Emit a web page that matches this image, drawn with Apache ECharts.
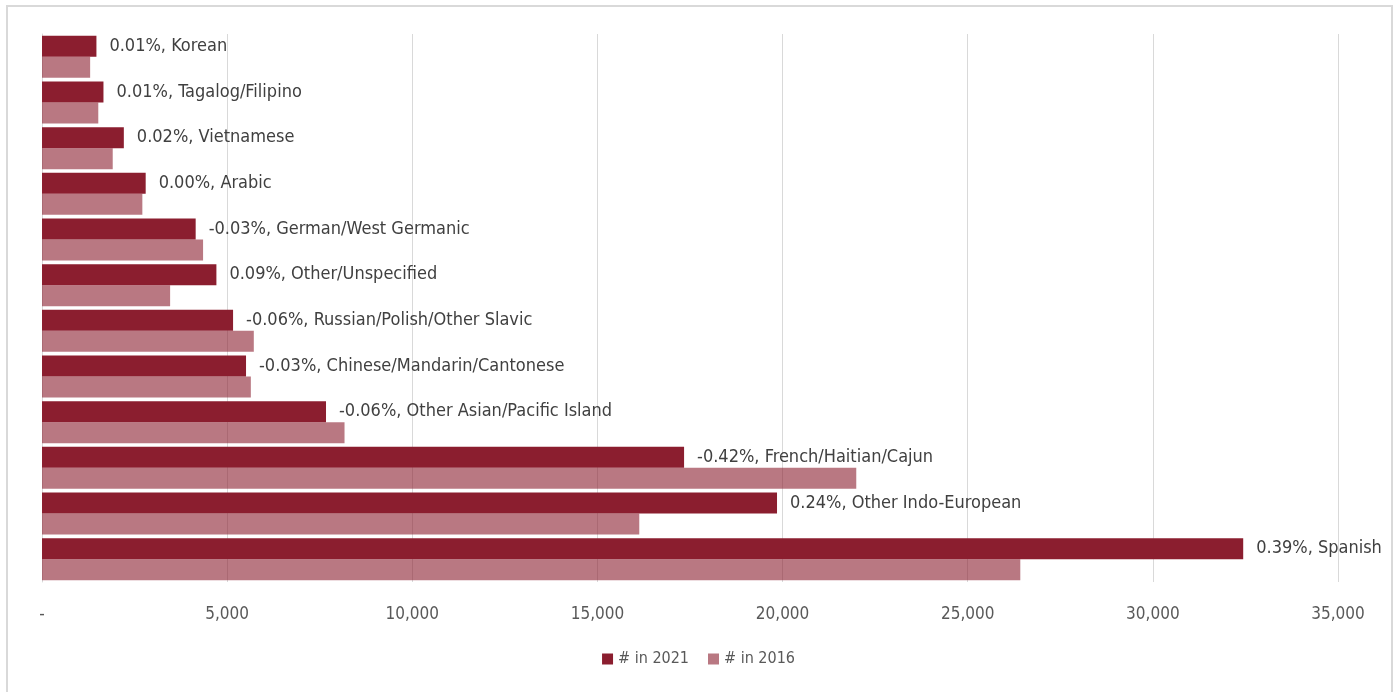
<!DOCTYPE html>
<html>
<head>
<meta charset="utf-8">
<script src="https://cdn.jsdelivr.net/npm/echarts@6/dist/echarts.min.js"></script>
<style>
  html, body { margin: 0; padding: 0; background: #fff; }
  #main { width: 1397px; height: 692px; }
</style>
</head>
<body>
<div id="main"></div>
<script>
// languages, listed top to bottom as in the chart
var languages = ['Korean', 'Tagalog/Filipino', 'Vietnamese', 'Arabic', 'German/West Germanic',
  'Other/Unspecified', 'Russian/Polish/Other Slavic', 'Chinese/Mandarin/Cantonese',
  'Other Asian/Pacific Island', 'French/Haitian/Cajun', 'Other Indo-European', 'Spanish'];
var count2021 = [1470, 1660, 2210, 2800, 4150, 4710, 5160, 5510, 7670, 17340, 19850, 32440];
var count2016 = [1300, 1520, 1910, 2710, 4350, 3460, 5720, 5640, 8170, 21990, 16130, 26420];
var pctChange = ['0.01%', '0.01%', '0.02%', '0.00%', '-0.03%', '0.09%', '-0.06%', '-0.03%',
  '-0.06%', '-0.42%', '0.24%', '0.39%'];
var xTicks = [0, 5000, 10000, 15000, 20000, 25000, 30000, 35000];

var font = "'DejaVu Sans Condensed', 'Liberation Sans Narrow', sans-serif";
var chart = echarts.init(document.getElementById('main'), null, {renderer: 'canvas'});

chart.setOption({
  animation: false,
  backgroundColor: '#fff',
  graphic: [{
    type: 'rect',
    shape: {x: 7, y: 6, width: 1385, height: 700},
    style: {fill: 'none', stroke: '#d9d9d9', lineWidth: 2},
    silent: true
  }],
  legend: {
    data: ['# in 2021', '# in 2016'],
    bottom: 20,
    left: 'center',
    icon: 'rect',
    itemWidth: 11,
    itemHeight: 11,
    itemGap: 19,
    textStyle: {color: '#595959', fontSize: 16, fontFamily: font}
  },
  grid: {left: 42, right: 59, top: 34, bottom: 110},
  xAxis: {
    type: 'value',
    min: xTicks[0],
    max: xTicks[xTicks.length - 1],
    interval: 5000,
    axisLine: {show: false},
    axisTick: {show: false},
    splitLine: {lineStyle: {color: '#d9d9d9', width: 1}},
    axisLabel: {
      color: '#595959', fontSize: 17, fontFamily: font, margin: 24,
      formatter: function (v) { return v === 0 ? '-' : v.toLocaleString('en-US'); }
    }
  },
  yAxis: {
    type: 'category',
    data: languages,
    inverse: true,
    axisLine: {show: true, lineStyle: {color: '#d9d9d9'}},
    axisTick: {show: false},
    axisLabel: {show: false}
  },
  series: [{
    name: '# in 2021',
    type: 'bar',
    data: count2021,
    barGap: '0%',
    barCategoryGap: '8%',
    itemStyle: {color: '#8b1e2f'},
    label: {
      show: true,
      position: 'right',
      distance: 13,
      color: '#404040',
      fontSize: 18,
      fontFamily: font,
      formatter: function (p) { return pctChange[p.dataIndex] + ', ' + languages[p.dataIndex]; }
    }
  }, {
    name: '# in 2016',
    type: 'bar',
    data: count2016,
    barGap: '0%',
    barCategoryGap: '8%',
    itemStyle: {color: 'rgba(139,30,47,0.6)'}
  }]
});
</script>
</body>
</html>
